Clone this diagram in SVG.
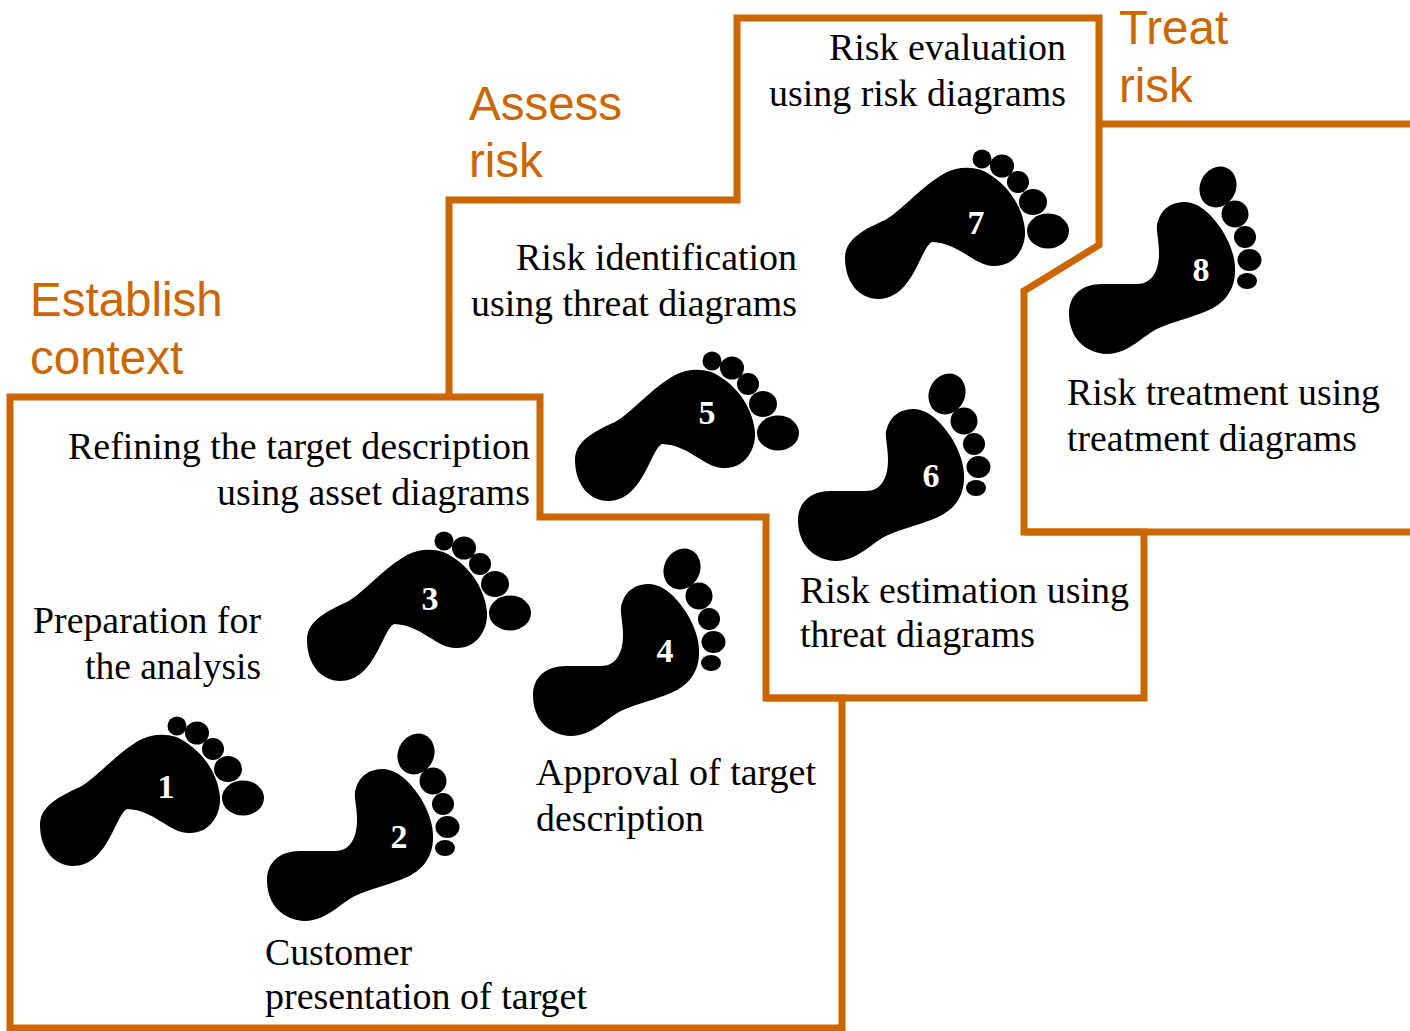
<svg xmlns="http://www.w3.org/2000/svg" width="1410" height="1031" viewBox="0 0 1410 1031">
<style>
.l{fill:none;stroke:#cc6600;stroke-width:7;stroke-linejoin:miter}
.h{font-family:"Liberation Sans",Arial,sans-serif;font-size:47.500px;fill:#cc6600}
.t{font-family:"Liberation Serif","Times New Roman",serif;font-size:37px;fill:#000}
.n{font-family:"Liberation Serif","Times New Roman",serif;font-size:34px;font-weight:bold;fill:#fff;text-anchor:middle}
.e{text-anchor:end}
</style>
<defs>
<g id="footA">
<path d="M40 825C40 808 55 798 80 787C95 779 118 752 140 740C155 732 175 733 187 743C205 755 218 775 220 797C221 815 210 833 190 833C170 834 155 810 127 809C115 815 108 866 73 866C55 866 40 850 40 825Z"/>
<circle cx="177" cy="726" r="9.500"/>
<ellipse cx="197" cy="733" rx="12" ry="11.500"/>
<circle cx="213" cy="749" r="11"/>
<ellipse cx="228" cy="769" rx="14" ry="13"/>
<ellipse cx="243" cy="798" rx="21" ry="17.500"/>
</g>
<g id="footB">
<path d="M267 880C267 862 280 851 300 851L335 851C350 851 357 838 357 820C357 805 353 795 356 788C360 775 370 769 383 769C400 770 412 785 420 797C428 810 434 825 433 840C432 860 420 873 400 880C385 886 370 889 357 895C340 903 328 920 305 921C283 920 267 905 267 880Z"/>
<ellipse cx="416" cy="754" rx="18" ry="21" transform="rotate(25 416 754)"/>
<circle cx="433" cy="781" r="13.500"/>
<circle cx="443" cy="804" r="11"/>
<ellipse cx="447.500" cy="827" rx="12" ry="11"/>
<ellipse cx="445" cy="848" rx="10" ry="8"/>
</g>
</defs>
<g id="connectors">
<path class="l" d="M449 397V200H737V18H1099V245L1024 291V532H1144V698H766"/>
<path class="l" d="M10 397H540V517H766V698H842V1028H10Z"/>
<path class="l" d="M1099 124H1410M1024 532H1410"/>
</g>
<g id="establish"><text class="h" x="30" y="316">Establish</text><text class="h" x="30" y="374">context</text></g>
<g id="assess"><text class="h" x="469" y="120">Assess</text><text class="h" x="469" y="177">risk</text></g>
<g id="treat"><text class="h" x="1119" y="44">Treat</text><text class="h" x="1119" y="102">risk</text></g>
<g id="foot1"><use href="#footA"/><text class="n" x="166" y="798">1</text></g>
<g id="foot2"><use href="#footB"/><text class="n" x="399" y="848">2</text></g>
<g id="foot3"><use href="#footA" x="267" y="-185"/><text class="n" x="430" y="610">3</text></g>
<g id="foot4"><use href="#footB" x="266" y="-185"/><text class="n" x="665" y="662">4</text></g>
<g id="foot5"><use href="#footA" x="535" y="-365"/><text class="n" x="707" y="424">5</text></g>
<g id="foot6"><use href="#footB" x="531" y="-360"/><text class="n" x="931" y="487">6</text></g>
<g id="foot7"><use href="#footA" x="805" y="-567"/><text class="n" x="976" y="234">7</text></g>
<g id="foot8"><use href="#footB" x="802" y="-567"/><text class="n" x="1201" y="281">8</text></g>
<g id="labels">
<text class="t e" x="530" y="459" textLength="462" lengthAdjust="spacingAndGlyphs">Refining the target description</text>
<text class="t e" x="530" y="505" textLength="313" lengthAdjust="spacingAndGlyphs">using asset diagrams</text>
<text class="t e" x="261" y="633" textLength="228" lengthAdjust="spacingAndGlyphs">Preparation for</text>
<text class="t e" x="261" y="679" textLength="176" lengthAdjust="spacingAndGlyphs">the analysis</text>
<text class="t" x="536" y="785" textLength="280" lengthAdjust="spacingAndGlyphs">Approval of target</text>
<text class="t" x="536" y="831" textLength="168" lengthAdjust="spacingAndGlyphs">description</text>
<text class="t" x="265" y="965" textLength="147" lengthAdjust="spacingAndGlyphs">Customer</text>
<text class="t" x="265" y="1009" textLength="322" lengthAdjust="spacingAndGlyphs">presentation of target</text>
<text class="t e" x="797" y="270" textLength="281" lengthAdjust="spacingAndGlyphs">Risk identification</text>
<text class="t e" x="797" y="316" textLength="326" lengthAdjust="spacingAndGlyphs">using threat diagrams</text>
<text class="t" x="800" y="603" textLength="329" lengthAdjust="spacingAndGlyphs">Risk estimation using</text>
<text class="t" x="800" y="647" textLength="235" lengthAdjust="spacingAndGlyphs">threat diagrams</text>
<text class="t e" x="1066" y="60" textLength="237" lengthAdjust="spacingAndGlyphs">Risk evaluation</text>
<text class="t e" x="1066" y="106" textLength="297" lengthAdjust="spacingAndGlyphs">using risk diagrams</text>
<text class="t" x="1067" y="405" textLength="313" lengthAdjust="spacingAndGlyphs">Risk treatment using</text>
<text class="t" x="1067" y="451" textLength="290" lengthAdjust="spacingAndGlyphs">treatment diagrams</text>
</g>
</svg>
